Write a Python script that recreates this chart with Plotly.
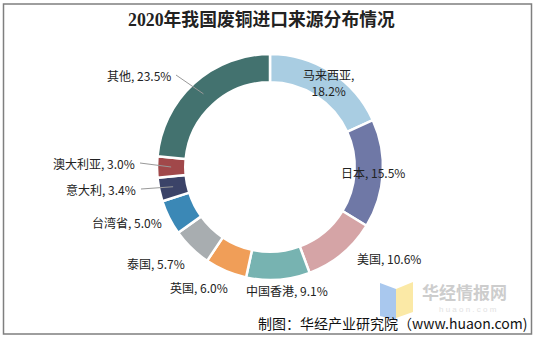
import math
import plotly.graph_objects as go

W, H = 535, 338

# ---- data ----
countries = ["马来西亚", "日本", "美国", "中国香港", "英国", "泰国", "台湾省", "意大利", "澳大利亚", "其他"]
shares = [18.2, 15.5, 10.6, 9.1, 6.0, 5.7, 5.0, 3.4, 3.0, 23.5]
colors = ["#A9CDE2", "#6F78A6", "#D5A4A6", "#77B3B1", "#F09E58",
          "#A8ADB0", "#3B88B6", "#3B4368", "#A1484A", "#43726F"]
title_text = "2020年我国废铜进口来源分布情况"
source_text = "制图：华经产业研究院（www.huaon.com)"

# ---- layout helpers (pixel positions of label text; pie geometry) ----
CX, CY, R_OUT = 270, 167, 113
HOLE = 0.75
# (x, y, xanchor, two_line, leader)
label_pos = [
    (328, 82, "center", True, False),
    (373, 173, "center", False, False),
    (389, 258, "center", False, False),
    (287, 290, "center", False, False),
    (199, 287, "center", False, False),
    (156, 263, "center", False, False),
    (164, 222, "right", False, False),
    (138, 189, "right", False, True),
    (137, 163, "right", False, True),
    (173, 75, "right", False, True),
]

def px(x):
    return x / W

def py(y):
    return 1 - y / H

fig = go.Figure()
fig.add_trace(go.Pie(
    labels=countries, values=shares, sort=False, direction="clockwise",
    rotation=0, hole=HOLE, textinfo="none", hoverinfo="label+percent",
    marker=dict(colors=colors, line=dict(color="white", width=2.5)),
    domain=dict(x=[px(CX - R_OUT), px(CX + R_OUT)], y=[py(CY + R_OUT), py(CY - R_OUT)]),
    showlegend=False,
))

annotations = []
shapes = []
total = sum(shares)
cum = 0.0
r_mid = R_OUT * (1 + HOLE) / 2
for name, v, (lx, ly, xa, two, leader) in zip(countries, shares, label_pos):
    mid = (cum + v / 2) / total * 2 * math.pi
    cum += v
    txt = f"{name},<br>{v:.1f}%" if two else f"{name}, {v:.1f}%"
    annotations.append(dict(
        x=px(lx), y=py(ly), xref="paper", yref="paper", text=txt, showarrow=False,
        xanchor=xa, yanchor="middle", align="center",
        font=dict(family="Noto Sans CJK SC, Liberation Sans, Arial", size=12, color="#222222"),
    ))
    if leader:
        ex = CX + r_mid * math.sin(mid)
        ey = CY - r_mid * math.cos(mid)
        shapes.append(dict(type="line", xref="paper", yref="paper",
                           x0=px(lx + 3), y0=py(ly), x1=px(ex), y1=py(ey),
                           line=dict(color="#999999", width=1)))

# title
annotations.append(dict(
    x=px(261), y=py(20), xref="paper", yref="paper", text=f"<b>{title_text}</b>",
    showarrow=False, xanchor="center", yanchor="middle",
    font=dict(family="Liberation Serif, Noto Sans CJK SC", size=17.8, color="#222222"),
))
# watermark
shapes.append(dict(type="path", xref="paper", yref="paper",
                   path=f"M {px(380)} {py(283)} L {px(396)} {py(289)} L {px(396)} {py(320)} L {px(380)} {py(316)} Z",
                   fillcolor="#A9C8EE", line=dict(width=0), layer="below"))
shapes.append(dict(type="path", xref="paper", yref="paper",
                   path=f"M {px(396)} {py(289)} L {px(413)} {py(282)} L {px(413)} {py(312)} L {px(396)} {py(318)} Z",
                   fillcolor="#FBE9A6", line=dict(width=0), layer="below"))
annotations.append(dict(
    x=px(420), y=py(291), xref="paper", yref="paper", text="<b>华经情报网</b>", showarrow=False,
    xanchor="left", yanchor="middle",
    font=dict(family="Noto Sans CJK SC", size=17, color="#CDCDCD"),
))
annotations.append(dict(
    x=px(468), y=py(309), xref="paper", yref="paper", text="h u a o n . c o m", showarrow=False,
    xanchor="center", yanchor="middle",
    font=dict(family="Liberation Sans", size=8, color="#E2E2E2"),
))
# source
annotations.append(dict(
    x=px(530), y=py(323), xref="paper", yref="paper", text=source_text, showarrow=False,
    xanchor="right", yanchor="middle",
    font=dict(family="Noto Sans CJK SC, Liberation Sans", size=14, color="#111111"),
))
# border
shapes.append(dict(type="rect", xref="paper", yref="paper",
                   x0=px(3.5), y0=py(334), x1=px(531.5), y1=py(4),
                   line=dict(color="#7F7F7F", width=1.5)))

fig.update_layout(
    width=W, height=H, margin=dict(l=0, r=0, t=0, b=0),
    paper_bgcolor="white", plot_bgcolor="white",
    annotations=annotations, shapes=shapes,
)
fig.write_html("out.html")
